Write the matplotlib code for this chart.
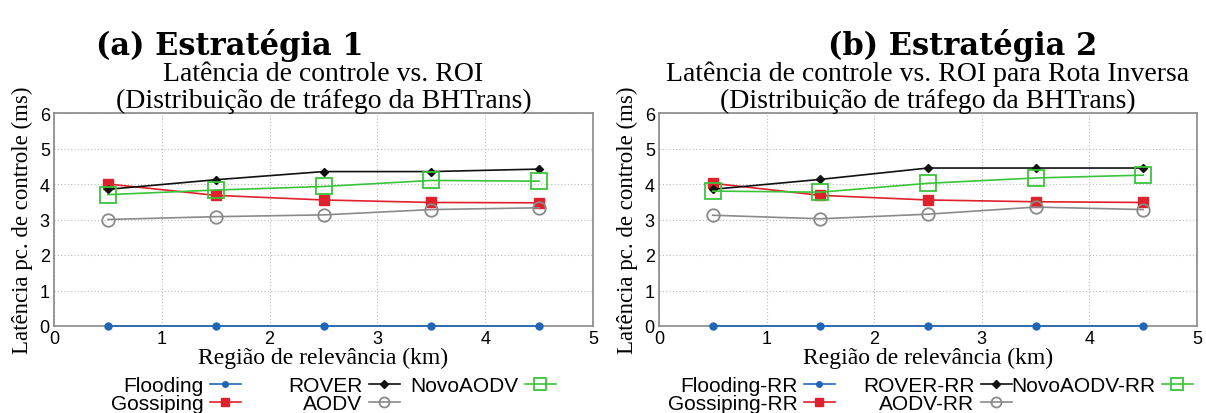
import matplotlib
matplotlib.use("Agg")
import matplotlib.pyplot as plt

# region of relevance (km)
roi = [0.5, 1.5, 2.5, 3.5, 4.5]

# (a) Estrategia 1
flooding_a = [0, 0, 0, 0, 0]
gossiping_a = [4.00, 3.68, 3.55, 3.48, 3.47]
rover_a = [3.85, 4.12, 4.35, 4.35, 4.42]
aodv_a = [3.00, 3.08, 3.13, 3.28, 3.33]
novoaodv_a = [3.70, 3.83, 3.93, 4.10, 4.08]

# (b) Estrategia 2 (rota inversa)
flooding_b = [0, 0, 0, 0, 0]
gossiping_b = [4.02, 3.68, 3.55, 3.50, 3.48]
rover_b = [3.85, 4.13, 4.45, 4.45, 4.45]
aodv_b = [3.12, 3.02, 3.15, 3.35, 3.28]
novoaodv_b = [3.80, 3.77, 4.02, 4.17, 4.25]

names_a = ["Flooding", "Gossiping", "ROVER", "AODV", "NovoAODV"]
names_b = ["Flooding-RR", "Gossiping-RR", "ROVER-RR", "AODV-RR", "NovoAODV-RR"]

styles = [
    dict(color="#1f66b8", marker="o", ms=5, mfc="#1f66b8", mec="#1f66b8"),
    dict(color="#e0202a", marker="s", ms=7, mfc="#e0202a", mec="#e0202a"),
    dict(color="#111111", marker="D", ms=4.5, mfc="#111111", mec="#111111"),
    dict(color="#8a8a8a", marker="o", ms=9, mfc="none", mec="#8a8a8a", mew=1.3),
    dict(color="#3ac43a", marker="s", ms=11, mfc="none", mec="#3ac43a", mew=1.3),
]

SANS = "Liberation Sans"
SERIF = "Liberation Serif"

fig = plt.figure(figsize=(12.06, 4.14), dpi=100)
W, H = 1206.0, 414.0


def fx(px):
    return px / W


def fy(py):
    return 1 - py / H


def panel(x0, x1, series, names, header, header_x, title, legend_cols):
    ax = fig.add_axes([fx(x0), fy(327), fx(x1 - x0), (327 - 114) / H])
    handles = []
    for ys, st, name in zip(series, styles, names):
        ln, = ax.plot(roi, ys, lw=1.2, label=name, zorder=3, clip_on=False, **st)
        handles.append(ln)
    ax.set_xlim(0, 5)
    ax.set_ylim(0, 6)
    ax.set_xticks(range(6))
    ax.set_yticks(range(7))
    ax.grid(True, ls=(0, (1, 2)), color="#bbbbbb", lw=0.8)
    for s in ax.spines.values():
        s.set_color("#888888")
        s.set_linewidth(1.2)
    ax.tick_params(length=0, labelsize=13, pad=3)
    for lab in ax.get_xticklabels() + ax.get_yticklabels():
        lab.set_fontfamily(SANS)
    ax.set_xlabel("Região de relevância (km)", fontfamily=SERIF, fontsize=17, labelpad=0)
    ax.set_ylabel("Latência pc. de controle (ms)", fontfamily=SERIF, fontsize=16.5, labelpad=5)
    ax.set_title(title, fontfamily=SERIF, fontsize=20, linespacing=1.08, pad=4)
    fig.text(fx(header_x), fy(45), header, fontfamily="DejaVu Serif", fontweight="bold",
             fontsize=22, ha="center", va="center")

    for idx, right in legend_cols:
        leg = fig.legend([handles[i] for i in idx], [names[i] for i in idx],
                         loc="upper right", bbox_to_anchor=(fx(right), fy(377)),
                         markerfirst=False, frameon=False, ncol=1,
                         prop=dict(family=SANS, size=15), handlelength=1.5,
                         handletextpad=0.3, labelspacing=-0.05, borderpad=0,
                         borderaxespad=0)
        for ln in leg.get_lines():
            ln.set_markersize(ln.get_markersize() * 0.8)
    return ax


panel(54, 593, [flooding_a, gossiping_a, rover_a, aodv_a, novoaodv_a], names_a,
      "(a) Estratégia 1", 230,
      "Latência de controle vs. ROI\n(Distribuição de tráfego da BHTrans)",
      [([0, 1], 241), ([2, 3], 400), ([4], 556)])

panel(659, 1197, [flooding_b, gossiping_b, rover_b, aodv_b, novoaodv_b], names_b,
      "(b) Estratégia 2", 963,
      "Latência de controle vs. ROI para Rota Inversa\n(Distribuição de tráfego da BHTrans)",
      [([0, 1], 835), ([2, 3], 1012), ([4], 1193)])

fig.savefig("out.png", dpi=100)
